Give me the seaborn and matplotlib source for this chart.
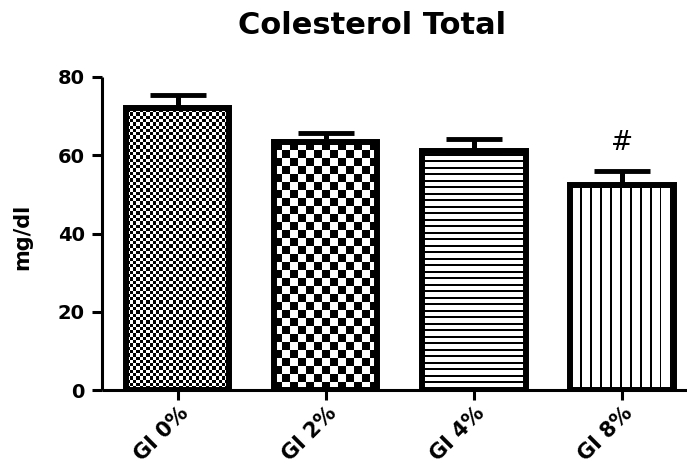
import numpy as np
import pandas as pd
import matplotlib
matplotlib.use("Agg")
import matplotlib.pyplot as plt
import matplotlib.transforms as mtransforms
import seaborn as sns

groups = ["GI 0%", "GI 2%", "GI 4%", "GI 8%"]
means = [72.2, 63.5, 61.0, 52.4]
sem_upper = [3.2, 2.1, 3.2, 3.7]
marks = ["", "", "", "#"]
yticks = [0, 20, 40, 60, 80]

sns.set_style("ticks")
plt.rcParams["font.family"] = ["DejaVu Sans"]
plt.rcParams["font.weight"] = "bold"
for key in ["text.color", "axes.labelcolor", "xtick.color", "ytick.color", "axes.edgecolor"]:
    plt.rcParams[key] = "black"

df = pd.DataFrame({"group": groups, "mean": means})

fig = plt.figure(figsize=(6.87, 4.66), dpi=100)
ax = fig.add_axes([102 / 687, 1 - 390 / 466, 1 - 102 / 687, (390 - 77) / 466])

sns.barplot(data=df, x="group", y="mean", order=groups, width=0.7,
            color="white", edgecolor="black", linewidth=4.3,
            errorbar=None, ax=ax, zorder=3)
for patch in ax.patches:
    patch.set_facecolor("none")

x = np.arange(len(groups))
ax.errorbar(x, means, yerr=[np.zeros(len(means)), sem_upper], fmt="none",
            ecolor="black", elinewidth=3.6, capsize=20, capthick=3.5, zorder=2.5)

ax.set_ylim(0, 80)
ax.set_xlim(-0.51, 3.44)
ax.set_yticks(yticks)
ax.set_ylabel("")
ax.set_xlabel("")

for side in ["top", "right"]:
    ax.spines[side].set_visible(False)
for side in ["left", "bottom"]:
    ax.spines[side].set_linewidth(2.2)
    ax.spines[side].set_capstyle("butt")

ax.tick_params(axis="both", length=7.5, width=2.2, color="black", pad=5)
ax.tick_params(axis="y", labelsize=14)
ax.tick_params(axis="x", labelsize=15, pad=3)
for lab in ax.get_yticklabels():
    lab.set_fontweight("bold")
offset = mtransforms.ScaledTranslation(0.5 / 72, 1 / 72, fig.dpi_scale_trans)
for lab in ax.get_xticklabels():
    lab.set_rotation(45)
    lab.set_ha("right")
    lab.set_va("top")
    lab.set_rotation_mode("anchor")
    lab.set_fontweight("bold")
    lab.set_transform(lab.get_transform() + offset)

# Fill patterns drawn inside each bar
def checker(w, h, cell):
    xx, yy = np.meshgrid(np.arange(w), np.arange(h))
    return ((np.floor(xx / cell) + np.floor(yy / cell)) % 2).astype(float)

def hlines(w, h, period, thick):
    xx, yy = np.meshgrid(np.arange(w), np.arange(h))
    return ((yy % period) >= thick).astype(float)

def vlines(w, h, period, thick):
    xx, yy = np.meshgrid(np.arange(w), np.arange(h))
    return ((xx % period) >= thick).astype(float)

patterns = [
    lambda w, h: checker(w, h, 3.3),
    lambda w, h: checker(w, h, 8.0),
    lambda w, h: hlines(w, h, 6.5, 1.8),
    lambda w, h: vlines(w, h, 9.9, 1.8),
]

fig.canvas.draw()
for patch, pat in zip(ax.patches, patterns):
    bb = patch.get_window_extent()
    w, h = int(np.ceil(bb.width)), int(np.ceil(bb.height))
    img = pat(w, h)
    x0, y0 = patch.get_x(), patch.get_y()
    ax.imshow(img, cmap="gray", vmin=0, vmax=1, origin="lower",
              extent=(x0, x0 + patch.get_width(), y0, y0 + patch.get_height()),
              interpolation="nearest", aspect="auto", zorder=2,
              clip_path=patch, clip_on=True)
ax.set_xlim(-0.51, 3.44)
ax.set_ylim(0, 80)

for xi, m, s, t in zip(x, means, sem_upper, marks):
    if t:
        ax.text(xi, m + s + 3.6, t, ha="center", va="bottom",
                fontsize=19, fontweight="normal", color="black")

fig.text(372 / 687, 1 - 34 / 466, "Colesterol Total", ha="center", va="baseline",
         fontsize=22, fontweight="bold")
fig.text(22 / 687, 1 - 237 / 466, "mg/dl", ha="center", va="center",
         rotation=90, fontsize=15, fontweight="bold")

fig.savefig("out.png", dpi=100)
